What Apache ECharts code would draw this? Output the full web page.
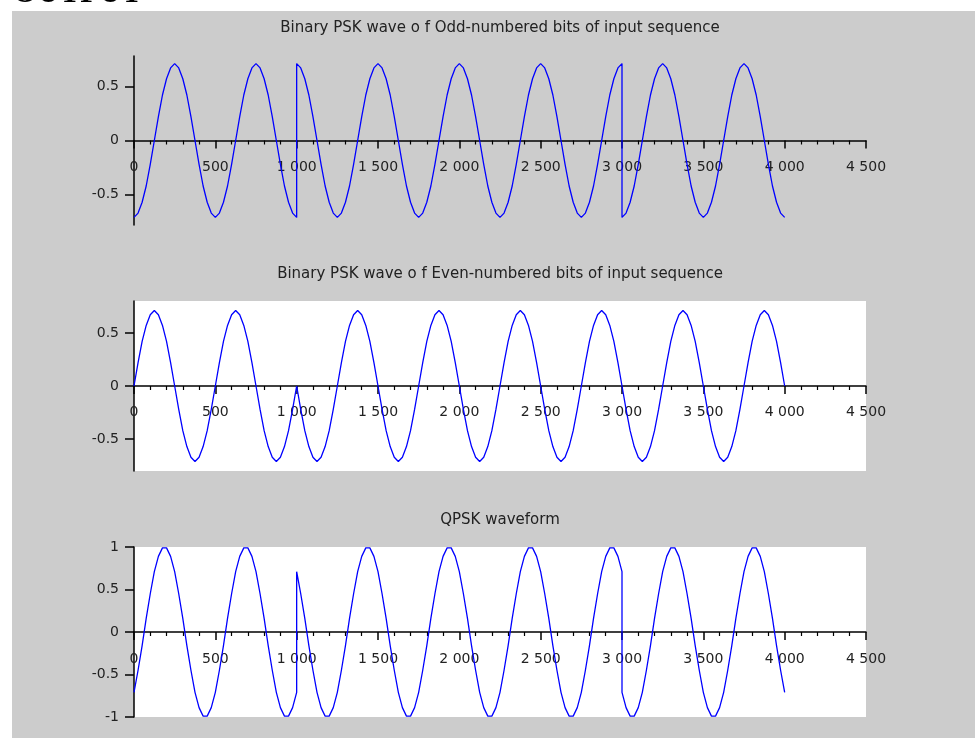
<!DOCTYPE html>
<html>
<head>
<meta charset="utf-8">
<script src="https://cdn.jsdelivr.net/npm/echarts@6/dist/echarts.min.js"></script>
<style>
html,body{margin:0;padding:0;background:#fff;}
#chart{width:975px;height:738px;}
</style>
</head>
<body>
<div id="chart"></div>
<script>
// ---- data ----
var plotTitles = [
  'Binary PSK wave o f Odd-numbered bits of input sequence',
  'Binary PSK wave o f Even-numbered bits of input sequence',
  'QPSK waveform'
];
var xTicks = [0, 500, 1000, 1500, 2000, 2500, 3000, 3500, 4000, 4500];
var yTicksBpsk = [0.5, 0, -0.5];
var yTicksQpsk = [1, 0.5, 0, -0.5, -1];

var sampleTimes = [
  0,25,50,75,100,125,150,175,200,225,250,275,300,325,350,375,400,425,450,475,
  500,525,550,575,600,625,650,675,700,725,750,775,800,825,850,875,900,925,950,975,1000,
  1000,1025,1050,1075,1100,1125,1150,1175,1200,1225,1250,1275,1300,1325,1350,1375,1400,1425,1450,1475,
  1500,1525,1550,1575,1600,1625,1650,1675,1700,1725,1750,1775,1800,1825,1850,1875,1900,1925,1950,1975,
  2000,2025,2050,2075,2100,2125,2150,2175,2200,2225,2250,2275,2300,2325,2350,2375,2400,2425,2450,2475,
  2500,2525,2550,2575,2600,2625,2650,2675,2700,2725,2750,2775,2800,2825,2850,2875,2900,2925,2950,2975,3000,
  3000,3025,3050,3075,3100,3125,3150,3175,3200,3225,3250,3275,3300,3325,3350,3375,3400,3425,3450,3475,
  3500,3525,3550,3575,3600,3625,3650,3675,3700,3725,3750,3775,3800,3825,3850,3875,3900,3925,3950,3975,4000
];

var oddWave = [
  -0.71,-0.67,-0.57,-0.42,-0.22,0,0.22,0.42,0.57,0.67,0.71,0.67,0.57,0.42,0.22,0,-0.22,-0.42,-0.57,-0.67,
  -0.71,-0.67,-0.57,-0.42,-0.22,0,0.22,0.42,0.57,0.67,0.71,0.67,0.57,0.42,0.22,0,-0.22,-0.42,-0.57,-0.67,-0.71,
  0.71,0.67,0.57,0.42,0.22,0,-0.22,-0.42,-0.57,-0.67,-0.71,-0.67,-0.57,-0.42,-0.22,0,0.22,0.42,0.57,0.67,
  0.71,0.67,0.57,0.42,0.22,0,-0.22,-0.42,-0.57,-0.67,-0.71,-0.67,-0.57,-0.42,-0.22,0,0.22,0.42,0.57,0.67,
  0.71,0.67,0.57,0.42,0.22,0,-0.22,-0.42,-0.57,-0.67,-0.71,-0.67,-0.57,-0.42,-0.22,0,0.22,0.42,0.57,0.67,
  0.71,0.67,0.57,0.42,0.22,0,-0.22,-0.42,-0.57,-0.67,-0.71,-0.67,-0.57,-0.42,-0.22,0,0.22,0.42,0.57,0.67,0.71,
  -0.71,-0.67,-0.57,-0.42,-0.22,0,0.22,0.42,0.57,0.67,0.71,0.67,0.57,0.42,0.22,0,-0.22,-0.42,-0.57,-0.67,
  -0.71,-0.67,-0.57,-0.42,-0.22,0,0.22,0.42,0.57,0.67,0.71,0.67,0.57,0.42,0.22,0,-0.22,-0.42,-0.57,-0.67,-0.71
];

var evenWave = [
  0,0.22,0.42,0.57,0.67,0.71,0.67,0.57,0.42,0.22,0,-0.22,-0.42,-0.57,-0.67,-0.71,-0.67,-0.57,-0.42,-0.22,
  0,0.22,0.42,0.57,0.67,0.71,0.67,0.57,0.42,0.22,0,-0.22,-0.42,-0.57,-0.67,-0.71,-0.67,-0.57,-0.42,-0.22,0,
  0,-0.22,-0.42,-0.57,-0.67,-0.71,-0.67,-0.57,-0.42,-0.22,0,0.22,0.42,0.57,0.67,0.71,0.67,0.57,0.42,0.22,
  0,-0.22,-0.42,-0.57,-0.67,-0.71,-0.67,-0.57,-0.42,-0.22,0,0.22,0.42,0.57,0.67,0.71,0.67,0.57,0.42,0.22,
  0,-0.22,-0.42,-0.57,-0.67,-0.71,-0.67,-0.57,-0.42,-0.22,0,0.22,0.42,0.57,0.67,0.71,0.67,0.57,0.42,0.22,
  0,-0.22,-0.42,-0.57,-0.67,-0.71,-0.67,-0.57,-0.42,-0.22,0,0.22,0.42,0.57,0.67,0.71,0.67,0.57,0.42,0.22,0,
  0,-0.22,-0.42,-0.57,-0.67,-0.71,-0.67,-0.57,-0.42,-0.22,0,0.22,0.42,0.57,0.67,0.71,0.67,0.57,0.42,0.22,
  0,-0.22,-0.42,-0.57,-0.67,-0.71,-0.67,-0.57,-0.42,-0.22,0,0.22,0.42,0.57,0.67,0.71,0.67,0.57,0.42,0.22,0
];

var qpskWave = [
  -0.71,-0.45,-0.16,0.16,0.45,0.71,0.89,0.99,0.99,0.89,0.71,0.45,0.16,-0.16,-0.45,-0.71,-0.89,-0.99,-0.99,-0.89,
  -0.71,-0.45,-0.16,0.16,0.45,0.71,0.89,0.99,0.99,0.89,0.71,0.45,0.16,-0.16,-0.45,-0.71,-0.89,-0.99,-0.99,-0.89,-0.71,
  0.71,0.45,0.16,-0.16,-0.45,-0.71,-0.89,-0.99,-0.99,-0.89,-0.71,-0.45,-0.16,0.16,0.45,0.71,0.89,0.99,0.99,0.89,
  0.71,0.45,0.16,-0.16,-0.45,-0.71,-0.89,-0.99,-0.99,-0.89,-0.71,-0.45,-0.16,0.16,0.45,0.71,0.89,0.99,0.99,0.89,
  0.71,0.45,0.16,-0.16,-0.45,-0.71,-0.89,-0.99,-0.99,-0.89,-0.71,-0.45,-0.16,0.16,0.45,0.71,0.89,0.99,0.99,0.89,
  0.71,0.45,0.16,-0.16,-0.45,-0.71,-0.89,-0.99,-0.99,-0.89,-0.71,-0.45,-0.16,0.16,0.45,0.71,0.89,0.99,0.99,0.89,0.71,
  -0.71,-0.89,-0.99,-0.99,-0.89,-0.71,-0.45,-0.16,0.16,0.45,0.71,0.89,0.99,0.99,0.89,0.71,0.45,0.16,-0.16,-0.45,
  -0.71,-0.89,-0.99,-0.99,-0.89,-0.71,-0.45,-0.16,0.16,0.45,0.71,0.89,0.99,0.99,0.89,0.71,0.45,0.16,-0.16,-0.45,-0.71
];

// ---- chart ----
function pairs(xs, ys) {
  var out = [];
  for (var i = 0; i < xs.length; i++) out.push([xs[i], ys[i]]);
  return out;
}
function fmtX(v) {
  var s = String(v);
  if (v >= 1000) s = s.slice(0, s.length - 3) + ' ' + s.slice(s.length - 3);
  return s;
}

var FONT = 'DejaVu Sans';
var grids = [
  { left: 134, top: 56, width: 732, height: 169, min: -0.78, max: 0.78, ticks: yTicksBpsk, white: false, labMargin: -65 },
  { left: 134, top: 301, width: 732, height: 170, min: -0.8, max: 0.8, ticks: yTicksBpsk, white: true, labMargin: -66 },
  { left: 134, top: 547, width: 732, height: 170, min: -1, max: 1, ticks: yTicksQpsk, white: true, labMargin: -65 }
];
var waves = [oddWave, evenWave, qpskWave];
var titleY = [28, 274, 520];

var option = {
  backgroundColor: '#cccccc',
  animation: false,
  grid: grids.map(function (g) {
    return {
      left: g.left, top: g.top, width: g.width, height: g.height,
      show: g.white, backgroundColor: '#ffffff', borderWidth: 0
    };
  }),
  xAxis: grids.map(function (g, i) {
    return {
      type: 'value', gridIndex: i, min: 0, max: 4500, interval: 500,
      axisLine: { show: true, onZero: true, lineStyle: { color: '#000', width: 1.5 } },
      axisTick: { show: true, length: 8, lineStyle: { color: '#000', width: 1.5 } },
      minorTick: { show: true, splitNumber: 5, length: 4, lineStyle: { color: '#000', width: 1.2 } },
      splitLine: { show: false },
      axisLabel: {
        show: true, margin: g.labMargin, color: '#222', fontFamily: FONT, fontSize: 14,
        showMinLabel: true, showMaxLabel: true, formatter: fmtX
      }
    };
  }),
  yAxis: grids.map(function (g, i) {
    return {
      type: 'value', gridIndex: i, min: g.min, max: g.max,
      axisLine: { show: true, onZero: false, lineStyle: { color: '#000', width: 1.5 } },
      axisTick: { show: true, length: 9, customValues: g.ticks, lineStyle: { color: '#000', width: 1.5 } },
      splitLine: { show: false },
      axisLabel: {
        show: true, margin: 15, color: '#222', fontFamily: FONT, fontSize: 14,
        customValues: g.ticks,
        formatter: function (v) { return String(v); }
      }
    };
  }),
  series: waves.map(function (w, i) {
    return {
      type: 'line', xAxisIndex: i, yAxisIndex: i,
      data: pairs(sampleTimes, w),
      showSymbol: false, symbol: 'none', smooth: false,
      lineStyle: { color: '#0000ff', width: 1.3 },
      z: 3
    };
  }),
  graphic: [
    { type: 'rect', shape: { x: 0, y: 0, width: 975, height: 11 }, style: { fill: '#ffffff' }, z: 10 },
    { type: 'rect', shape: { x: 0, y: 0, width: 12, height: 738 }, style: { fill: '#ffffff' }, z: 10 },
    { type: 'text', x: 13, y: 9, z: 11, style: { text: 'OUTPUT', font: 'bold 31px "Liberation Serif"', fill: '#000', verticalAlign: 'bottom' } }
  ].concat(plotTitles.map(function (t, i) {
    return {
      type: 'text', x: 500, y: titleY[i], z: 11,
      style: { text: t, font: '15px "DejaVu Sans"', fill: '#222', align: 'center', verticalAlign: 'middle' }
    };
  }))
};

var chart = echarts.init(document.getElementById('chart'), null, { renderer: 'canvas' });
chart.setOption(option);
</script>
</body>
</html>
